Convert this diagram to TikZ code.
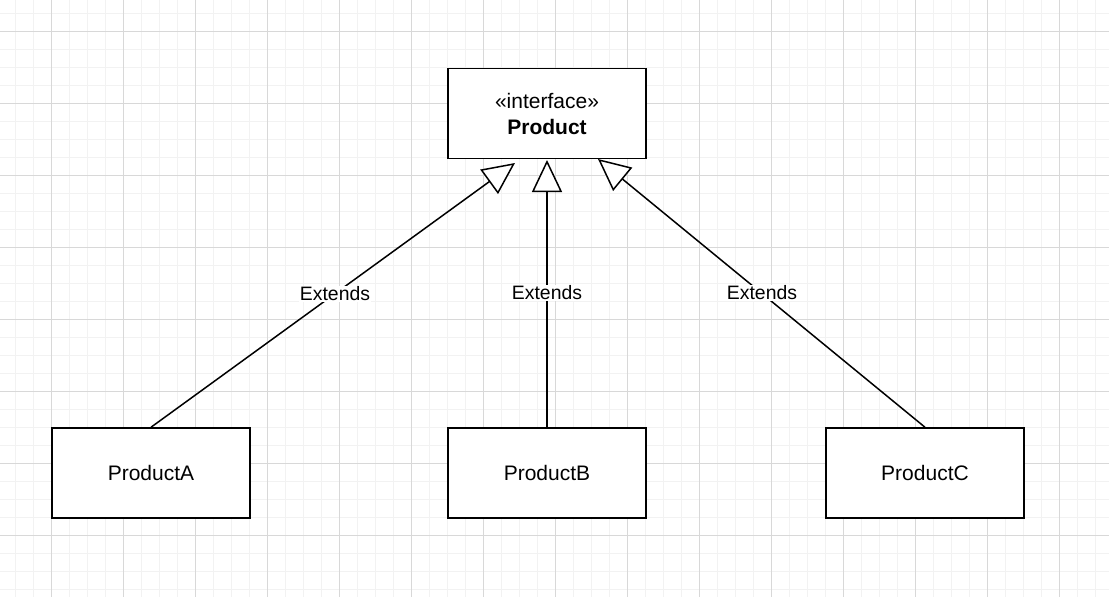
\documentclass[tikz,border=0pt]{standalone}
\usepackage{fontspec}
\setmainfont{Liberation Sans}
\usetikzlibrary{arrows.meta}
\definecolor{gridminor}{HTML}{F2F2F2}
\definecolor{gridmajor}{HTML}{D8D8D8}
\tikzset{
  classbox/.style={draw=black, line width=1.5pt, fill=white, minimum width=198pt, minimum height=90pt, inner sep=0pt, align=center, font=\fontsize{21}{26}\selectfont},
  extline/.style={draw=black, line width=1.5pt, -{Triangle[open, length=32pt, width=30pt, fill=white, line width=1.5pt]}},
  extlabel/.style={fill=white, inner sep=1pt, font=\fontsize{19.4}{23}\selectfont}
}
\begin{document}
\begin{tikzpicture}[x=1pt, y=-1pt]
\useasboundingbox (0,0) rectangle (1109,597);
\fill[white] (0,0) rectangle (1109,597);
% minor grid
\foreach \x in {15,33,...,1109} \draw[gridminor, line width=1pt] (\x,0) -- (\x,597);
\foreach \y in {13,31,...,597} \draw[gridminor, line width=1pt] (0,\y) -- (1109,\y);
% major grid
\foreach \x in {51,123,...,1109} \draw[gridmajor, line width=1pt] (\x,0) -- (\x,597);
\foreach \y in {31,103,...,597} \draw[gridmajor, line width=1pt] (0,\y) -- (1109,\y);

\node[classbox] (p) at (547,113.5) {«interface»\\\textbf{Product}};
\node[classbox] (pa) at (151,473) {ProductA};
\node[classbox] (pb) at (547,473) {ProductB};
\node[classbox] (pc) at (925,473) {ProductC};

\coordinate (tipA) at (515,163);
\coordinate (tipB) at (547,160);
\coordinate (tipC) at (598,159);

\draw[extline] (pa.north) -- (tipA);
\draw[extline] (pb.north) -- (tipB);
\draw[extline] (pc.north) -- (tipC);

\node[extlabel] (la) at (335,294) {Extends};
\node[extlabel] (lb) at (547,293) {Extends};
\node[extlabel] (lc) at (762,293) {Extends};
\end{tikzpicture}
\end{document}
